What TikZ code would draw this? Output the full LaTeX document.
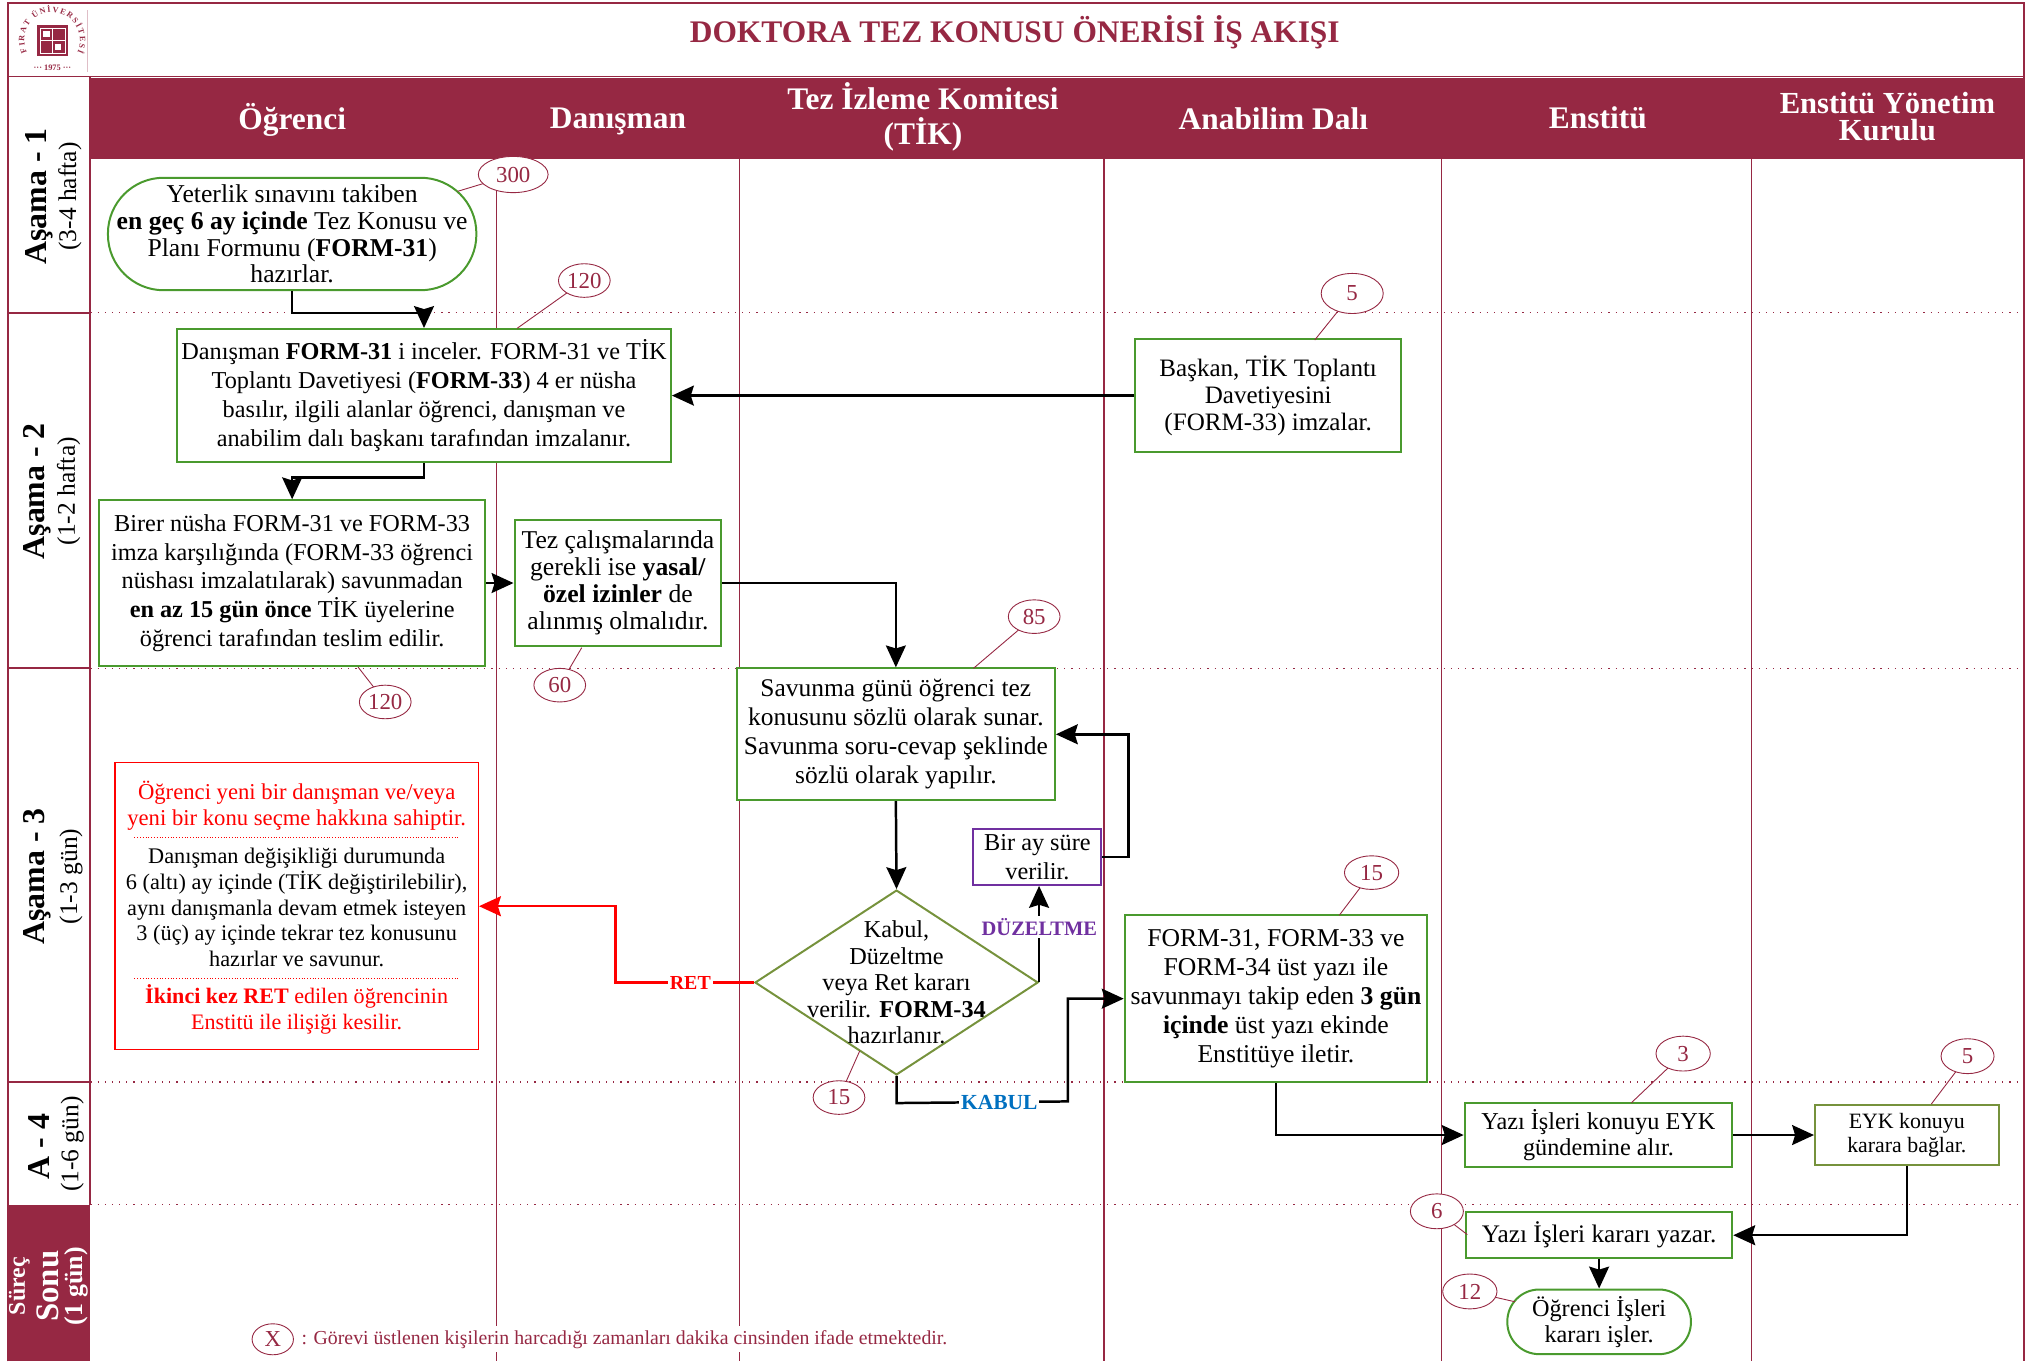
\documentclass[tikz,border=0pt]{standalone}
\usepackage{fontspec}
\setmainfont{Liberation Serif}
\usetikzlibrary{arrows.meta,shapes.geometric,decorations.text}

\definecolor{maroon}{HTML}{962843}
\definecolor{boxgreen}{HTML}{4A9A2E}
\definecolor{boxolive}{HTML}{76923C}
\definecolor{boxpurple}{HTML}{7030A0}
\definecolor{kabulblue}{HTML}{0070C0}

\tikzset{
  bodyfont/.style={font=\fontsize{12.2}{14.5}\selectfont},
  sized/.style 2 args={minimum width=#1*0.65pt, minimum height=#2*0.65pt, inner sep=0pt},
  stagebox/.style={draw=boxgreen, line width=1pt, fill=white, align=center, bodyfont},
  endbox/.style={stagebox, rounded corners=16pt},
  nudged/.style={execute at begin node=\rule{0pt}{12.8pt}},
  note/.style={ellipse, draw=maroon, line width=0.45pt, fill=white, text=maroon, inner sep=0pt,
    font=\fontsize{11.5}{13}\selectfont},
  noteline/.style={draw=maroon, line width=0.45pt},
  flow/.style={draw=black, line width=1.25pt, -{Stealth[length=11pt,width=10pt,inset=1.5pt]}},
  colhead/.style={text=white, align=center, font=\fontsize{15.8}{15}\bfseries\selectfont},
  stagehead/.style={rotate=90, font=\fontsize{16}{15}\bfseries\selectfont},
  stagesub/.style={rotate=90, font=\fontsize{12.8}{12}\selectfont},
  swim/.style={draw=maroon, line width=0.7pt},
  stageline/.style={draw=maroon, line width=0.6pt, dash pattern=on 0.6pt off 3pt},
}

\begin{document}
\begin{tikzpicture}[x=0.65pt, y=-0.65pt]
    \useasboundingbox (0,0) rectangle (1568,1053);

    % frame and header
    \fill [maroon] (70,60) rectangle (1566,123);
    \fill [maroon] (6,932) rectangle (70,1053);
    \draw [swim, line width=1pt] (6,1053) -- (6,2) -- (1566,2) -- (1566,1053);
    \draw [swim] (6,59) -- (1566,59);
    \draw [swim, line width=1pt] (70,59) -- (70,932);
    \draw [maroon!30, line width=0.3pt] (67.5,8) -- (67.5,56);

    \draw [swim, line width=1pt] (6,242) -- (70,242);
    \draw [swim, line width=1pt] (6,517) -- (70,517);
    \draw [swim, line width=1pt] (6,837) -- (70,837);
    \draw [stageline] (70,242) -- (1566,242);
    \draw [stageline] (70,517) -- (1566,517);
    \draw [stageline] (70,837) -- (1566,837);
    \draw [stageline] (70,932) -- (1566,932);

    \draw [swim] (384,123) -- (384,1053);
    \draw [swim] (572,123) -- (572,1053);
    \draw [swim] (854,123) -- (854,1053);
    \draw [swim] (1115,123) -- (1115,1053);
    \draw [swim] (1355,123) -- (1355,1053);

    % logo
    \node [circle, minimum size=28pt, inner sep=0pt] (logo) at (40.6,31) {};
    \node [fill=maroon, minimum size=15.6pt, inner sep=0pt] (logosq) at (logo) {};
    \draw [white, line width=0.3pt] (31,21.5) rectangle (50.2,41.5);
    \draw [white, line width=0.5pt] (40.6,21.5) -- (40.6,41.5);
    \draw [white, line width=0.5pt] (31,31.5) -- (50.2,31.5);
    \fill [white] (33.5,24) rectangle (38.5,29);
    \fill [white] (42.5,34) rectangle (47.5,39);
    \path [decorate, decoration={text along path, text align={fit to path},
      text={|\fontsize{4.1}{5}\bfseries\selectfont\color{maroon}|FIRAT ÜNİVERSİTESİ}}]
      (logo.205) arc[start angle=205, end angle=-25, radius=14pt];
    \node [text=maroon, font=\fontsize{4.2}{5}\bfseries\selectfont] (logoyear) at (40.6,52.5) {··· 1975 ···};

    \node [text=maroon, font=\fontsize{15.8}{18}\bfseries\selectfont] (title) at (785,25)
      {DOKTORA TEZ KONUSU ÖNERİSİ İŞ AKIŞI};

    \node [colhead] (ogrhead) at (226,93) {Öğrenci};
    \node [colhead] (danhead) at (478,94) {Danışman};
    \node [colhead] (tikhead) at (714,90.5) {Tez İzleme Komitesi\\[2.5pt](TİK)};
    \node [colhead] (abdhead) at (985,92) {Anabilim Dalı};
    \node [colhead] (ensthead) at (1236,91) {Enstitü};
    \node [colhead, font=\fontsize{15.4}{13.5}\bfseries\selectfont] (eykhead) at (1460,90) {Enstitü Yönetim\\Kurulu};

    \node [stagehead] (asama1) at (30,152) {Aşama - 1};
    \node [stagesub] (sure1) at (54,152) {(3-4 hafta)};
    \node [stagehead] (asama2) at (29,380) {Aşama - 2};
    \node [stagesub] (sure2) at (53,380) {(1-2 hafta)};
    \node [stagehead] (asama3) at (29,678) {Aşama - 3};
    \node [stagesub] (sure3) at (55,678) {(1-3 gün)};
    \node [stagehead] (asama4) at (30,887) {A - 4};
    \node [stagesub] (sure4) at (56,885) {(1-6 gün)};
    \node [rotate=90, text=white, font=\fontsize{12}{11}\bfseries\selectfont] (surec) at (15,995) {Süreç};
    \node [rotate=90, text=white, font=\fontsize{16.5}{15}\bfseries\selectfont] (sonu) at (37,995) {Sonu};
    \node [rotate=90, text=white, font=\fontsize{13}{12}\bfseries\selectfont] (surecgun) at (59,995) {(1 gün)};

    % process steps
    \node [endbox, rounded corners=28pt, sized={285}{87}, font=\fontsize{12.9}{13.4}\selectfont] (yeterlik) at (226,181)
      {Yeterlik sınavını takiben\\\textbf{en geç 6 ay içinde} Tez Konusu ve\\Planı Formunu (\textbf{FORM-31})\\hazırlar.};
    \node [stagebox, nudged, sized={382}{103}] (inceler) at (328,306)
      {Danışman \textbf{FORM-31} i inceler. FORM-31 ve TİK\\Toplantı Davetiyesi (\textbf{FORM-33}) 4 er nüsha\\basılır, ilgili alanlar öğrenci, danışman ve\\anabilim dalı başkanı tarafından imzalanır.};
    \node [stagebox, sized={206}{87}, font=\fontsize{12.6}{13.7}\selectfont] (baskan) at (981,306)
      {Başkan, TİK Toplantı\\Davetiyesini\\(FORM-33) imzalar.};
    \node [stagebox, nudged, sized={299}{128}] (teslim) at (226,451)
      {Birer nüsha FORM-31 ve FORM-33\\imza karşılığında (FORM-33 öğrenci\\nüshası imzalatılarak) savunmadan\\\textbf{en az 15 gün önce} TİK üyelerine\\öğrenci tarafından teslim edilir.};
    \node [stagebox, sized={160}{98}, font=\fontsize{12.9}{13.6}\selectfont] (izin) at (478,451)
      {Tez çalışmalarında\\gerekli ise \textbf{yasal/}\\\textbf{özel izinler} de\\alınmış olmalıdır.};
    \node [stagebox, nudged, sized={246}{102}, font=\fontsize{12.8}{14.5}\selectfont] (savunma) at (693,568)
      {Savunma günü öğrenci tez\\konusunu sözlü olarak sunar.\\Savunma soru-cevap şeklinde\\sözlü olarak yapılır.};
    \node [diamond, draw=boxolive, line width=1pt, fill=white, sized={219}{143}] (karar) at (693.5,760) {};
    \node [align=center, font=\fontsize{12.2}{13.3}\selectfont] (karartext) at (karar)
      {Kabul,\\Düzeltme\\veya Ret kararı\\verilir. \textbf{FORM-34}\\hazırlanır.};
    \node [stagebox, draw=boxpurple, sized={99}{43}] (biray) at (802.5,663) {Bir ay süre\\verilir.};
    \node [stagebox, nudged, sized={234}{129}, font=\fontsize{12.9}{14.5}\selectfont] (ustyazi) at (987,772.5)
      {FORM-31, FORM-33 ve\\FORM-34 üst yazı ile\\savunmayı takip eden \textbf{3 gün}\\\textbf{içinde} üst yazı ekinde\\Enstitüye iletir.};
    \node [stagebox, sized={207}{50}, font=\fontsize{12.2}{13}\selectfont] (gundem) at (1236.5,878) {Yazı İşleri konuyu EYK\\gündemine alır.};
    \node [stagebox, draw=boxolive, sized={142}{47}, font=\fontsize{11}{12}\selectfont] (eyk) at (1475,878) {EYK konuyu\\karara bağlar.};
    \node [stagebox, sized={206}{35.5}, font=\fontsize{12.7}{14}\selectfont] (yazar) at (1237,955.5) {Yazı İşleri kararı yazar.};
    \node [endbox, sized={142}{50}, font=\fontsize{12.2}{13}\selectfont] (isler) at (1237,1022.5) {Öğrenci İşleri\\kararı işler.};

    % red box
    \node [draw=red, line width=0.7pt, fill=white, sized={281}{222}] (hak) at (229.5,701) {};
    \node [text=red, align=center, font=\fontsize{11.4}{13.2}\selectfont] (hakust) at (hak.center |- 0,623)
      {Öğrenci yeni bir danışman ve/veya\\yeni bir konu seçme hakkına sahiptir.};
    \node [align=center, font=\fontsize{11.2}{13}\selectfont] (hakorta) at (hak.center |- 0,702)
      {Danışman değişikliği durumunda\\6 (altı) ay içinde (TİK değiştirilebilir),\\aynı danışmanla devam etmek isteyen\\3 (üç) ay içinde tekrar tez konusunu\\hazırlar ve savunur.};
    \node [text=red, align=center, font=\fontsize{11.1}{13.2}\selectfont] (hakalt) at (hak.center |- 0,781)
      {\textbf{İkinci kez RET} edilen öğrencinin\\Enstitü ile ilişiği kesilir.};
    \draw [red, line width=0.4pt, densely dotted] (104,648) -- (354,648);
    \draw [red, line width=0.4pt, densely dotted] (104,757) -- (354,757);

    % time notes
    \coordinate (t300) at (354,148);
    \coordinate (t120a) at (400,254);
    \coordinate (t5a) at (1017,263);
    \coordinate (t120b) at (277,516);
    \coordinate (t60) at (450,501);
    \coordinate (t85) at (753,517);
    \coordinate (t15a) at (665,813);
    \coordinate (t15b) at (1036,708);
    \coordinate (t3) at (1262,853);
    \coordinate (t5b) at (1494,854);
    \coordinate (t6) at (1135,955);
    \coordinate (t12) at (1172,1007);

    \draw [noteline] (t300) -- (397,135) node [note, sized={54}{28}] (n300) {300};
    \draw [noteline] (t120a) -- (452,217) node [note, sized={40}{26}] (n120a) {120};
    \draw [noteline] (t5a) -- (1046,227) node [note, sized={48}{31}] (n5a) {5};
    \draw [noteline] (t120b) -- (298,543) node [note, sized={40}{26}] (n120b) {120};
    \draw [noteline] (t60) -- (433,530) node [note, sized={40}{26}] (n60) {60};
    \draw [noteline] (t85) -- (800,477) node [note, sized={40}{26}] (n85) {85};
    \draw [noteline] (t15a) -- (649,849) node [note, sized={40}{26}] (n15a) {15};
    \draw [noteline] (t15b) -- (1061,675) node [note, sized={42}{26}] (n15b) {15};
    \draw [noteline] (t3) -- (1302,815) node [note, sized={42}{27}] (n3) {3};
    \draw [noteline] (t5b) -- (1522,817) node [note, sized={41}{27}] (n5b) {5};
    \draw [noteline] (t6) -- (1111.5,937) node [note, sized={41}{27}] (n6) {6};
    \draw [noteline] (t12) -- (1137,999) node [note, sized={42}{27}] (n12) {12};

    % connectors
    \draw [flow] (yeterlik.south) -- ++(0,17) -| (inceler.north);
    \draw [flow] (baskan.west) -- (inceler.east);
    \draw [flow] (inceler.south) -- ++(0,11) -| (teslim.north);
    \draw [flow] (teslim.east) -- (izin.west);
    \draw [flow] (izin.east) -| (savunma.north);
    \draw [flow] (savunma.south) -- (karar.north);
    \draw [flow, red] (karar.west) -- (476,760) |- (hak.east);
    \draw [flow] (karar.east) -- (biray.south -| karar.east);
    \draw [flow] (biray.east) -- ++(20,0) |- (savunma.east);
    \draw [flow] (karar.south) -- ++(0,21) -- (826,852) |- (ustyazi.west);
    \draw [flow] (ustyazi.south) |- (gundem.west);
    \draw [flow] (gundem.east) -- (eyk.west);
    \draw [flow] (eyk.south) |- (yazar.east);
    \draw [flow] (yazar.south) -- (isler.north);

    % decision labels
    \node [fill=white, text=red, inner sep=1pt, font=\fontsize{10}{12}\bfseries\selectfont] (ret) at (534,760) {RET};
    \node [fill=white, text=boxpurple, inner sep=1pt, font=\fontsize{10.3}{12}\bfseries\selectfont] (duzeltme) at (804,717) {DÜZELTME};
    \node [fill=white, text=kabulblue, inner sep=1pt, font=\fontsize{10.8}{12}\bfseries\selectfont] (kabul) at (773,853) {KABUL};

    % legend
    \node [note, sized={32}{24}] (legendx) at (211,1036) {X};
    \node [fill=white, text=maroon, anchor=west, inner xsep=0pt, inner ysep=2pt, font=\fontsize{9.95}{11}\selectfont] (legend) at (233,1036)
      {: Görevi üstlenen kişilerin harcadığı zamanları dakika cinsinden ifade etmektedir.};
\end{tikzpicture}
\end{document}
